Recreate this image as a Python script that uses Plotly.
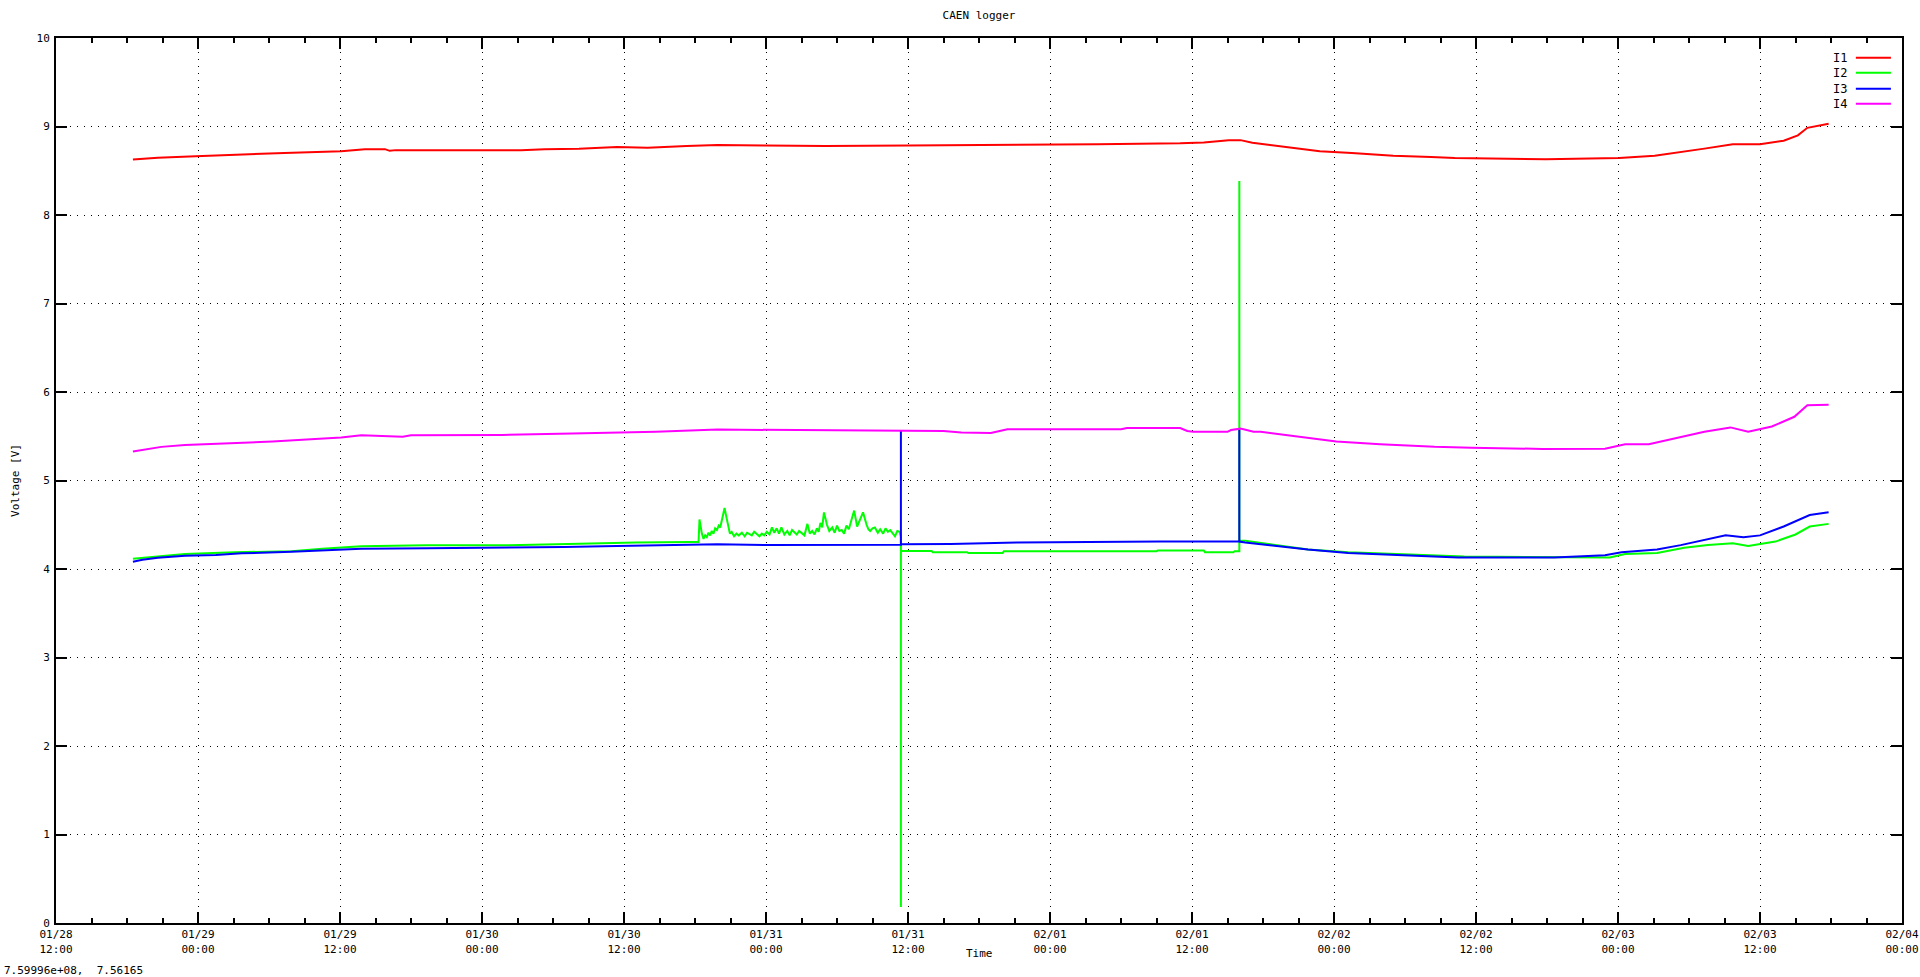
import pandas as pd
import plotly.graph_objects as go

BASE = pd.Timestamp("2024-01-28 12:00")

# hours since 2024-01-28 12:00
I1_t = [6.5, 8.6, 11.8, 15.1, 19.3, 24.1, 26.1, 27.8, 28.2, 28.7, 39.3, 41.3, 44.2, 47.4, 50.0, 53.3, 55.9,
        60.0, 65.0, 72.0, 80.0, 88.0, 95.0, 97.0, 99.1, 100.1, 101.1, 103.1, 106.8, 109.5, 113.0, 116.2,
        118.2, 125.9, 132.1, 135.1, 137.3, 139.3, 141.7, 144.0, 146.0, 147.2, 148.0, 149.8]
I1_v = [8.628, 8.647, 8.665, 8.677, 8.70, 8.72, 8.744, 8.744, 8.725, 8.733, 8.733, 8.744, 8.75, 8.767, 8.76,
        8.78, 8.79, 8.785, 8.78, 8.785, 8.79, 8.80, 8.81, 8.82, 8.846, 8.846, 8.816, 8.78, 8.72, 8.70, 8.67,
        8.654, 8.643, 8.63, 8.643, 8.67, 8.71, 8.75, 8.80, 8.80, 8.84, 8.90, 8.985, 9.03]

I2_t = [6.5, 8.6, 10.9, 15.1, 19.9, 22.5, 25.8, 31.3, 37.7, 42.3, 45.5, 49.0, 53.6, 54.3,
        54.38, 54.58, 54.72, 54.86, 55.0, 55.14, 55.28, 55.42, 55.56, 55.7, 55.85, 56.0, 56.13, 56.33,
        56.5, 56.6, 56.8, 56.95, 57.1, 57.3, 57.5, 57.7, 57.96, 58.2, 58.4, 58.6, 58.8, 59.0, 59.2,
        59.45, 59.65, 59.85, 60.07, 60.3, 60.5, 60.7, 60.9, 61.1, 61.3, 61.55, 61.8, 62.0, 62.2, 62.4,
        62.6, 62.8, 63.0, 63.25, 63.5, 63.7, 63.9, 64.1, 64.3, 64.45, 64.6, 64.75, 64.9, 65.15, 65.35,
        65.6, 65.8, 66.0, 66.2, 66.4, 66.6, 66.8, 67.0, 67.2, 67.45, 67.7, 67.96, 68.2, 68.5, 68.65,
        68.8, 69.0, 69.2, 69.45, 69.65, 69.9, 70.1, 70.3, 70.5, 70.7, 70.9, 71.1, 71.3, 71.4, 71.4, 71.4,
        74.0, 74.1, 77.0, 77.1, 80.0, 80.1, 93.0, 93.1, 97.0, 97.1, 99.5, 99.6, 100.0, 100.0, 100.0,
        100.5, 102.5, 105.8, 109.2, 115.0, 119.0, 131.3, 132.6, 135.3, 137.6, 139.6, 141.7, 143.0,
        145.3, 147.0, 148.2, 149.8]
I2_v = [4.117, 4.14, 4.17, 4.19, 4.20, 4.23, 4.256, 4.267, 4.267, 4.28, 4.29, 4.30, 4.305, 4.305,
        4.56, 4.40, 4.34, 4.38, 4.36, 4.41, 4.38, 4.43, 4.40, 4.46, 4.44, 4.49, 4.47, 4.60,
        4.69, 4.62, 4.47, 4.40, 4.42, 4.37, 4.40, 4.38, 4.41, 4.37, 4.41, 4.39, 4.38, 4.42, 4.40,
        4.37, 4.40, 4.38, 4.42, 4.39, 4.47, 4.41, 4.46, 4.40, 4.47, 4.39, 4.43, 4.38, 4.44, 4.41,
        4.39, 4.43, 4.41, 4.38, 4.51, 4.40, 4.43, 4.39, 4.46, 4.42, 4.52, 4.47, 4.64, 4.50, 4.43,
        4.47, 4.41, 4.49, 4.43, 4.44, 4.40, 4.49, 4.45, 4.54, 4.66, 4.48, 4.56, 4.64, 4.50, 4.45,
        4.43, 4.46, 4.47, 4.41, 4.45, 4.40, 4.46, 4.42, 4.44, 4.40, 4.37, 4.43, 4.42, 4.36, 0.18, 4.204,
        4.204, 4.19, 4.19, 4.18, 4.18, 4.20, 4.20, 4.21, 4.21, 4.19, 4.19, 4.20, 4.20, 8.385, 4.32,
        4.32, 4.28, 4.22, 4.19, 4.16, 4.14, 4.13, 4.17, 4.18, 4.24, 4.27, 4.29, 4.26,
        4.31, 4.39, 4.48, 4.51]

I3_t = [6.5, 7.3, 8.6, 10.9, 13.5, 15.7, 19.9, 22.5, 25.8, 31.3, 37.7, 42.9, 47.4, 53.9, 55.9, 60.0,
        71.4, 71.4, 71.4, 75.6, 77.2, 81.2, 93.3, 100.0, 100.0, 100.0, 100.5, 102.5, 105.8, 109.2,
        113.2, 118.5, 126.6, 130.9, 132.3, 135.3, 137.3, 139.6, 141.1, 142.6, 144.0, 146.0, 147.3,
        148.2, 149.8]
I3_v = [4.083, 4.105, 4.128, 4.15, 4.158, 4.177, 4.195, 4.21, 4.23, 4.235, 4.24, 4.25, 4.26, 4.27, 4.28,
        4.27, 4.275, 5.57, 4.28, 4.283, 4.29, 4.30, 4.31, 4.31, 5.58, 4.31, 4.30, 4.27, 4.22, 4.18,
        4.16, 4.13, 4.13, 4.155, 4.19, 4.22, 4.27, 4.34, 4.38, 4.36, 4.38, 4.48, 4.556, 4.61, 4.64]

I4_t = [6.5, 8.0, 8.9, 10.9, 13.1, 18.3, 21.9, 24.1, 25.8, 28.7, 29.3, 30.0, 37.7, 43.6, 47.4, 50.7, 55.9,
        60.0, 68.0, 75.0, 76.5, 79.0, 80.4, 90.0, 90.5, 95.0, 95.6, 96.1, 99.0, 99.3, 100.1, 101.2,
        101.8, 104.1, 108.2, 111.9, 116.5, 119.6, 125.6, 130.9, 132.6, 134.6, 137.0, 139.3, 141.5,
        143.0, 145.0, 146.9, 148.0, 149.8]
I4_v = [5.327, 5.365, 5.38, 5.40, 5.41, 5.44, 5.47, 5.485, 5.51, 5.50, 5.495, 5.51, 5.515, 5.53, 5.54,
        5.55, 5.575, 5.57, 5.567, 5.56, 5.541, 5.537, 5.578, 5.58, 5.593, 5.593, 5.56, 5.55, 5.55, 5.57,
        5.586, 5.55, 5.55, 5.51, 5.44, 5.41, 5.38, 5.37, 5.357, 5.36, 5.41, 5.41, 5.485, 5.55, 5.60,
        5.55, 5.61, 5.72, 5.85, 5.857]

NAMES = ["I1", "I2", "I3", "I4"]
COLORS = ["#ff0000", "#00ff00", "#0000ff", "#ff00ff"]
SERIES = [(I1_t, I1_v), (I2_t, I2_v), (I3_t, I3_v), (I4_t, I4_v)]

FONT = "DejaVu Sans Mono"

fig = go.Figure()
for name, color, (t, v) in zip(NAMES, COLORS, SERIES):
    x = [BASE + pd.Timedelta(hours=h) for h in t]
    fig.add_trace(go.Scatter(x=x, y=v, mode="lines", name=name,
                             line=dict(color=color, width=2), showlegend=False))

# gnuplot-style legend: label left of the sample line
legend_y = [0.9778, 0.9608, 0.9427, 0.9258]
for name, color, ly in zip(NAMES, COLORS, legend_y):
    fig.add_annotation(xref="paper", yref="paper", x=0.9713, y=ly, text=name, showarrow=False,
                       xanchor="right", yanchor="middle", font=dict(family=FONT, size=12, color="black"))
    fig.add_shape(type="line", xref="paper", yref="paper", x0=0.975, x1=0.994, y0=ly, y1=ly,
                  line=dict(color=color, width=2))

fig.add_annotation(xref="paper", yref="paper", x=0.5, y=-0.035, text="Time", showarrow=False,
                   xanchor="center", yanchor="middle", font=dict(family=FONT, size=11, color="black"))
fig.add_annotation(xref="paper", yref="paper", x=-0.022, y=0.5, text="Voltage [V]", showarrow=False,
                   textangle=-90, xanchor="center", yanchor="middle",
                   font=dict(family=FONT, size=11, color="black"))
fig.add_annotation(xref="paper", yref="paper", x=-0.0295, y=-0.054, text="7.59996e+08,\u00a0 7.56165",
                   showarrow=False, xanchor="left", yanchor="middle",
                   font=dict(family=FONT, size=11, color="black"))

axis_common = dict(showline=True, linecolor="black", linewidth=2, mirror="ticks",
                   ticks="inside", tickcolor="black", tickwidth=2, ticklen=11,
                   showgrid=True, gridcolor="black", gridwidth=1, griddash="1px,6px",
                   zeroline=False, tickfont=dict(family=FONT, size=11, color="black"),
                   automargin=False)

fig.update_layout(
    width=1920, height=977,
    margin=dict(l=56, r=18, t=38, b=54),
    paper_bgcolor="white", plot_bgcolor="white",
    title=dict(text="CAEN logger", x=0.5, xref="paper", y=1 - 15 / 977, yanchor="middle",
               font=dict(family=FONT, size=11, color="black")),
    xaxis=dict(type="date", range=["2024-01-28 12:00", "2024-02-04 00:00"],
               tick0="2024-01-28 12:00", dtick=12 * 3600 * 1000, tickformat="%m/%d<br>%H:%M",
               minor=dict(dtick=3 * 3600 * 1000, ticks="inside", ticklen=5, tickwidth=2,
                          tickcolor="black", showgrid=False),
               **axis_common),
    yaxis=dict(range=[0, 10], dtick=1, tick0=0, ticklabelstandoff=2, **axis_common),
)

fig.write_html("out.html", config={"displayModeBar": False},
               post_script="document.body.style.margin='0';document.body.style.overflow='hidden';")
